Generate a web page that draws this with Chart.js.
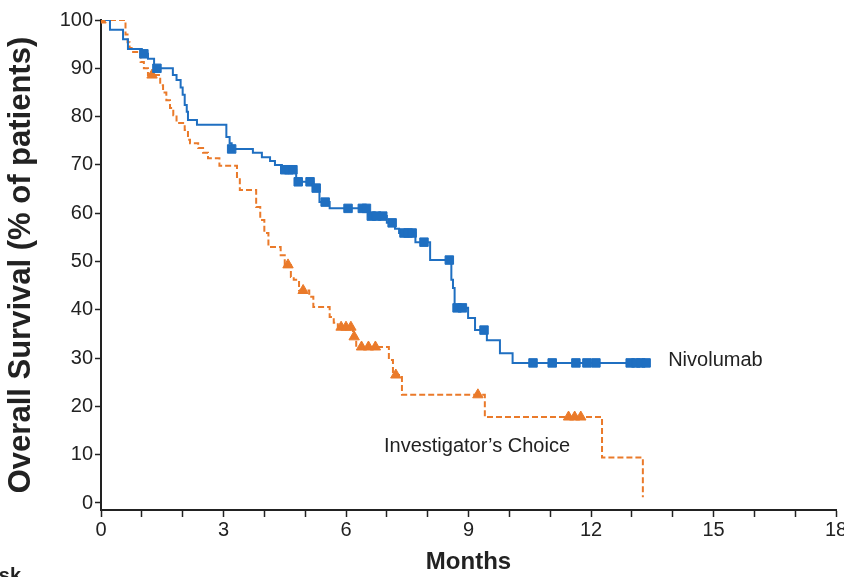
<!DOCTYPE html>
<html>
<head>
<meta charset="utf-8">
<script src="https://cdn.jsdelivr.net/npm/chart.js@4"></script>
<style>
  html, body { margin: 0; padding: 0; background: #fff; }
  canvas { display: block; }
</style>
</head>
<body>
<canvas id="km" width="844" height="577"></canvas>
<script>
// Nivolumab arm (Kaplan-Meier steps: month at which curve drops, value after drop)
const nivoMonths = [0, 0.22, 0.54, 0.66, 1.0, 1.15, 1.3, 1.76, 1.85, 1.95, 2.0, 2.05, 2.1, 2.13, 2.35, 3.07, 3.15, 3.2, 3.72, 3.94, 4.14, 4.26, 4.43, 4.78, 5.2, 5.35, 5.6, 6.54, 7.0, 7.2, 7.3, 7.7, 8.06, 8.58, 8.62, 8.66, 8.99, 9.16, 9.45, 9.77, 10.08, 13.4];
const nivoSurv   = [100, 98, 96, 94, 93, 92, 90, 88.6, 87.6, 86, 84.5, 82.4, 81, 79.3, 78.3, 75.8, 74.5, 73.3, 72.5, 71.6, 70.8, 70, 69, 66.5, 65.2, 62.3, 61, 59.4, 58, 56.8, 55.9, 54, 50.3, 46.2, 44.5, 40.4, 38.3, 35.8, 33.7, 31, 29, 29];
const nivoCensored = [1.05, 1.37, 3.2, 4.5, 4.6, 4.7, 4.83, 5.12, 5.27, 5.49, 6.05, 6.4, 6.5, 6.62, 6.75, 6.9, 7.13, 7.42, 7.52, 7.62, 7.91, 8.53, 8.72, 8.85, 9.38, 10.58, 11.05, 11.63, 11.9, 12.12, 12.96, 13.1, 13.22, 13.35];

// Investigator's Choice arm
const icMonths = [0, 0.6, 0.65, 0.7, 0.75, 0.97, 1.05, 1.15, 1.45, 1.52, 1.6, 1.69, 1.77, 1.85, 2.05, 2.13, 2.18, 2.38, 2.5, 2.62, 2.9, 3.33, 3.4, 3.8, 3.9, 4.0, 4.1, 4.4, 4.5, 4.65, 4.72, 4.85, 5.1, 5.2, 5.6, 5.7, 5.8, 6.17, 6.25, 7.05, 7.15, 7.37, 9.4, 12.27, 13.27];
const icSurv   = [100, 97, 95.4, 94.2, 93.4, 91.3, 90, 88.6, 86.5, 85, 83.4, 81.8, 80.3, 78.7, 77.2, 75.2, 74.5, 73.5, 72.5, 71.4, 69.8, 67.5, 64.8, 61.3, 58.6, 55.9, 53, 51.3, 49.3, 46.8, 46.2, 44, 42.7, 40.6, 38.5, 37.3, 36.4, 34.4, 32.3, 29.6, 26.5, 22.4, 17.8, 9.4, 1.2];
const icCensored = [0, 1.25, 4.58, 4.95, 5.88, 6.0, 6.12, 6.2, 6.38, 6.55, 6.72, 7.22, 9.23, 11.45, 11.6, 11.75];

const yTicks = [0, 10, 20, 30, 40, 50, 60, 70, 80, 90, 100];

const BLUE = "#1f6fc1";
const ORANGE = "#ea7a2a";
const AXIS = "#222";
const SANS = "'Liberation Sans', Arial, sans-serif";
const tickFont = { family: SANS, size: 20 };

// value of a step curve at time t (used to sit censor marks on the line)
function survAt(months, surv, t) {
  let v = surv[0];
  for (let i = 0; i < months.length; i++) {
    if (months[i] <= t) v = surv[i];
  }
  return v;
}

const toPoints = (xs, ys) => xs.map((x, i) => ({ x, y: ys[i] }));

const armLabels = {
  id: "armLabels",
  afterDraw(chart) {
    const { ctx, scales: { x, y } } = chart;
    ctx.save();
    ctx.fillStyle = "#222";
    ctx.font = "20px " + SANS;
    ctx.textBaseline = "middle";
    ctx.textAlign = "left";
    ctx.fillText("Nivolumab", x.getPixelForValue(13.89), y.getPixelForValue(29.6));
    ctx.fillText("Investigator\u2019s Choice", x.getPixelForValue(6.93), y.getPixelForValue(11.8));
    // cut-off caption under the axis, as in the source figure
    ctx.font = "bold 20px " + SANS;
    ctx.textAlign = "right";
    ctx.textBaseline = "alphabetic";
    ctx.fillText("No. at Risk", 21, 582);
    ctx.restore();
  }
};

new Chart(document.getElementById("km"), {
  type: "line",
  data: {
    datasets: [
      {
        label: "Nivolumab censored",
        data: nivoCensored.map(t => ({ x: t, y: survAt(nivoMonths, nivoSurv, t) })),
        showLine: false,
        pointStyle: "rect",
        pointRadius: 6,
        pointBackgroundColor: BLUE,
        pointBorderColor: BLUE,
        pointBorderWidth: 1,
        order: 0
      },
      {
        label: "Investigator's Choice censored",
        data: icCensored.map(t => ({ x: t, y: survAt(icMonths, icSurv, t) })),
        showLine: false,
        pointStyle: "triangle",
        pointRadius: 6,
        pointBackgroundColor: ORANGE,
        pointBorderColor: ORANGE,
        pointBorderWidth: 1,
        order: 0
      },
      {
        label: "Nivolumab",
        data: toPoints(nivoMonths, nivoSurv),
        stepped: true,
        borderColor: BLUE,
        borderWidth: 2,
        pointRadius: 0,
        fill: false,
        order: 1
      },
      {
        label: "Investigator's Choice",
        data: toPoints(icMonths, icSurv),
        stepped: true,
        borderColor: ORANGE,
        borderWidth: 2,
        borderDash: [6, 3],
        pointRadius: 0,
        fill: false,
        order: 1
      }
    ]
  },
  options: {
    responsive: false,
    animation: false,
    layout: { padding: { top: 20, right: 8, left: 0, bottom: 0 } },
    plugins: { legend: { display: false }, tooltip: { enabled: false } },
    scales: {
      x: {
        type: "linear",
        min: 0,
        max: 18,
        ticks: {
          stepSize: 1,
          autoSkip: false,
          maxRotation: 0,
          padding: 1,
          color: "#222",
          font: tickFont,
          callback: v => (v % 3 === 0 ? String(v) : "")
        },
        grid: { drawOnChartArea: false, tickLength: 7, color: AXIS, tickWidth: 1.5 },
        border: { color: AXIS, width: 2 },
        title: {
          display: true,
          text: "Months",
          color: "#222",
          font: { family: SANS, size: 24, weight: "bold" },
          padding: { top: 0, bottom: 0 }
        },
        afterFit(scale) {
          scale.height = 67;
          scale.paddingLeft = 0;
          scale.paddingRight = 0;
        }
      },
      y: {
        min: -1.45,
        max: 100,
        afterBuildTicks(scale) {
          scale.ticks = yTicks.map(v => ({ value: v }));
        },
        ticks: { padding: 2, color: "#222", font: tickFont },
        grid: { drawOnChartArea: false, tickLength: 6, color: AXIS, tickWidth: 1.5 },
        border: { color: AXIS, width: 2 },
        title: {
          display: true,
          text: "Overall Survival (% of patients)",
          color: "#222",
          font: { family: SANS, size: 31, weight: "bold" },
          padding: { top: 3, bottom: 0 }
        },
        afterFit(scale) {
          scale.width = 101;
          scale.paddingTop = 0;
          scale.paddingBottom = 0;
        }
      }
    }
  },
  plugins: [armLabels]
});
</script>
</body>
</html>
